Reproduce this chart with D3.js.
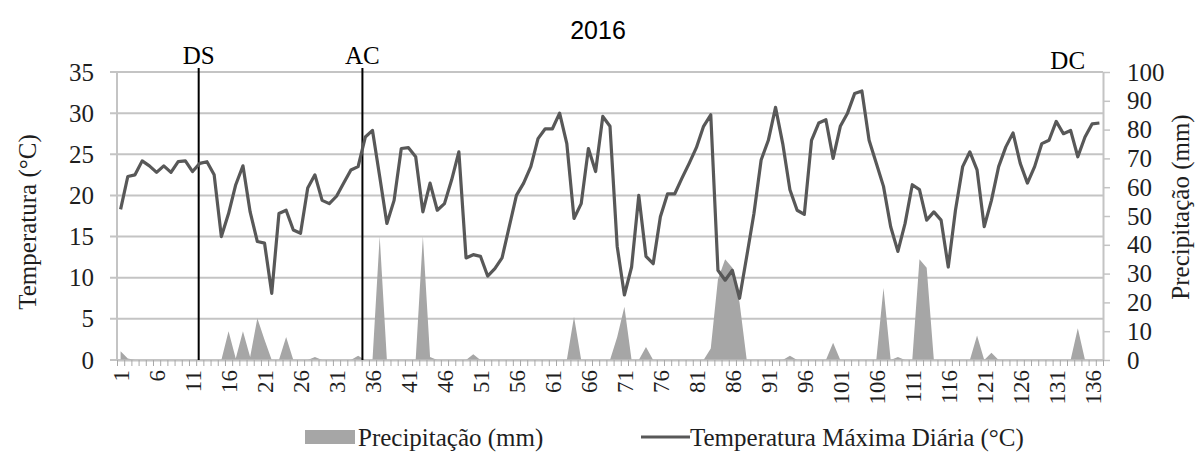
<!DOCTYPE html>
<html>
<head>
<meta charset="utf-8">
<script src="https://cdn.jsdelivr.net/npm/d3@7/dist/d3.min.js"></script>
<style>
  html, body { margin: 0; padding: 0; background: #fff; }
  svg { display: block; }
</style>
</head>
<body>
<script>
// ---------------- DATA ----------------
const title = "2016";
const days = d3.range(1, 138); // categories: day 1 .. 137
const tempMax = [
  18.3, 22.3, 22.5, 24.2, 23.6, 22.8, 23.6, 22.8, 24.1, 24.2,
  22.9, 23.9, 24.1, 22.5, 15.0, 17.8, 21.3, 23.6, 18.0, 14.4,
  14.2, 8.1, 17.8, 18.2, 15.8, 15.4, 20.9, 22.5, 19.4, 19.0,
  19.9, 21.5, 23.1, 23.5, 27.1, 27.9, 22.3, 16.6, 19.4, 25.7,
  25.8, 24.7, 18.0, 21.5, 18.2, 19.0, 21.9, 25.3, 12.4, 12.8,
  12.6, 10.2, 11.1, 12.4, 16.2, 20.0, 21.5, 23.5, 26.9, 28.1,
  28.1, 30.0, 26.3, 17.2, 19.0, 25.7, 22.9, 29.6, 28.4, 13.8,
  7.9, 11.3, 20.0, 12.6, 11.7, 17.4, 20.2, 20.2, 22.1, 23.9,
  25.8, 28.4, 29.8, 10.9, 9.7, 10.9, 7.5, 12.6, 17.8, 24.3,
  26.7, 30.7, 26.3, 20.7, 18.2, 17.7, 26.7, 28.8, 29.2, 24.5,
  28.4, 30.0, 32.4, 32.7, 26.7, 23.9, 21.1, 16.2, 13.2, 16.6,
  21.3, 20.7, 17.0, 18.0, 17.0, 11.3, 18.2, 23.5, 25.3, 23.1,
  16.2, 19.4, 23.5, 25.9, 27.6, 23.9, 21.5, 23.5, 26.3, 26.7,
  29.0, 27.5, 27.9, 24.7, 27.1, 28.7, 28.8
];
const precip = [
  3, 0.5, 0, 0, 0, 0, 0, 0, 0, 0,
  0, 0, 0, 0, 0, 10, 0.5, 10, 1, 14.5,
  7, 0, 0, 8, 0, 0, 0, 1, 0, 0,
  0, 0, 0, 1.5, 0, 0, 43, 0, 0, 0,
  0, 0, 43, 1, 0, 0, 0, 0, 0, 2,
  0, 0, 0, 0, 0, 0, 0, 0, 0, 0,
  0, 0, 0, 15, 0, 0, 0, 0, 0, 8,
  18.5, 0, 0, 4.5, 0, 0, 0, 0, 0, 0,
  0, 0, 4, 28, 35, 32, 20, 0, 0, 0,
  0, 0, 0, 1.5, 0, 0, 0, 0, 0, 6,
  0, 0, 0, 0, 0, 0, 25, 0, 1, 0,
  0, 35, 32, 0, 0, 0, 0, 0, 0, 8.5,
  0, 2.5, 0, 0, 0, 0, 0, 0, 0, 0,
  0, 0, 0, 11, 0, 0, 0
];
const tempTicks = [0, 5, 10, 15, 20, 25, 30, 35];
const precipTicks = [0, 10, 20, 30, 40, 50, 60, 70, 80, 90, 100];
const xLabelDays = d3.range(1, 138, 5); // 1, 6, ..., 136
const eventLabels = ["DS", "AC", "DC"];
const eventDays = [11.85, 34.6, null];      // vertical marker lines (DC has none)
const eventLabelDays = [11.85, 34.6, 132.6];
const legendLabels = ["Precipitação (mm)", "Temperatura Máxima Diária (°C)"];
const yLeftTitle = "Temperatura (°C)";
const yRightTitle = "Precipitação (mm)";

// ---------------- LAYOUT ----------------
const W = 1200, H = 452;
const plot = { left: 117, right: 1103, top: 72, bottom: 360 };
const serif = "'Liberation Serif', 'Times New Roman', serif";
const textColor = "#1e1e1e";
const gridColor = "#c4c4c4";
const axisColor = "#a8a8a8";
const areaColor = "#a6a6a6";
const lineColor = "#585858";

const svg = d3.select("body").append("svg")
  .attr("width", W).attr("height", H)
  .style("background", "#fff");

const x = d3.scaleLinear().domain([0.5, days.length + 0.5]).range([plot.left, plot.right]);
const yL = d3.scaleLinear().domain([0, 35]).range([plot.bottom, plot.top]);
const yR = d3.scaleLinear().domain([0, 100]).range([plot.bottom, plot.top]);

// gridlines (left axis)
svg.append("g").selectAll("line").data(tempTicks).join("line")
  .attr("x1", plot.left - 7).attr("x2", plot.right)
  .attr("y1", d => yL(d)).attr("y2", d => yL(d))
  .attr("stroke", gridColor).attr("stroke-width", 2);

// left axis line
svg.append("line")
  .attr("x1", plot.left).attr("x2", plot.left)
  .attr("y1", plot.top).attr("y2", plot.bottom)
  .attr("stroke", gridColor).attr("stroke-width", 2);

// left axis labels
const gL = svg.append("g").attr("transform", `translate(${plot.left},0)`)
  .call(d3.axisLeft(yL).tickValues(tempTicks).tickSize(0).tickPadding(23));
gL.select(".domain").remove();
gL.selectAll("text").style("font-family", serif).style("font-size", "25px").attr("fill", textColor);

// right axis
const gR = svg.append("g").attr("transform", `translate(${plot.right},0)`)
  .call(d3.axisRight(yR).tickValues(precipTicks).tickSizeInner(7).tickSizeOuter(0).tickPadding(17));
gR.select(".domain").attr("stroke", gridColor).attr("stroke-width", 2);
gR.selectAll(".tick line").attr("stroke", gridColor).attr("stroke-width", 1.5);
gR.selectAll("text").style("font-family", serif).style("font-size", "25px").attr("fill", textColor);

// precipitation area
const area = d3.area()
  .x((d, i) => x(days[i]))
  .y0(yR(0))
  .y1(d => yR(d));
svg.append("path").datum(precip)
  .attr("d", area)
  .attr("fill", areaColor);

// x axis with category tick marks
const boundaries = d3.range(0, days.length + 1).map(i => i + 0.5);
const gX = svg.append("g").attr("transform", `translate(0,${plot.bottom})`)
  .call(d3.axisBottom(x).tickValues(boundaries).tickSizeInner(6).tickSizeOuter(0).tickFormat(""));
gX.select(".domain").attr("stroke", gridColor).attr("stroke-width", 2);
gX.selectAll(".tick line").attr("stroke", axisColor).attr("stroke-width", 1);

const gXL = svg.append("g").attr("transform", `translate(0,${plot.bottom})`)
  .call(d3.axisBottom(x).tickValues(xLabelDays).tickSize(0).tickFormat(d3.format("d")));
gXL.select(".domain").remove();
gXL.selectAll("text")
  .attr("transform", "rotate(-90)")
  .attr("x", -10).attr("y", 0).attr("dy", "0.35em")
  .style("text-anchor", "end")
  .style("font-family", serif).style("font-size", "23px").attr("fill", textColor);

// event vertical lines
eventDays.forEach((d, i) => {
  if (d === null) return;
  svg.append("line")
    .attr("x1", x(d)).attr("x2", x(d))
    .attr("y1", plot.top - 4).attr("y2", plot.bottom)
    .attr("stroke", "#000").attr("stroke-width", 2);
});
eventLabels.forEach((lab, i) => {
  svg.append("text")
    .attr("x", x(eventLabelDays[i]))
    .attr("y", i === 2 ? 69 : 64)
    .attr("text-anchor", "middle")
    .style("font-family", serif).style("font-size", "25px")
    .attr("fill", "#000")
    .text(lab);
});

// temperature line
const line = d3.line()
  .x((d, i) => x(days[i]))
  .y(d => yL(d));
svg.append("path").datum(tempMax)
  .attr("d", line)
  .attr("fill", "none")
  .attr("stroke", lineColor)
  .attr("stroke-width", 3.2)
  .attr("stroke-linejoin", "round");

// title
svg.append("text")
  .attr("x", 598).attr("y", 39)
  .attr("text-anchor", "middle")
  .style("font-family", "'Liberation Sans', Arial, sans-serif").style("font-size", "25px")
  .attr("fill", "#000")
  .text(title);

// axis titles
svg.append("text")
  .attr("transform", "translate(36,222) rotate(-90)")
  .attr("text-anchor", "middle")
  .style("font-family", serif).style("font-size", "25px")
  .attr("fill", textColor)
  .text(yLeftTitle);
svg.append("text")
  .attr("transform", "translate(1189,207) rotate(-90)")
  .attr("text-anchor", "middle")
  .style("font-family", serif).style("font-size", "25px")
  .attr("fill", textColor)
  .text(yRightTitle);

// legend
const legend = svg.append("g");
legend.append("rect")
  .attr("x", 305).attr("y", 430).attr("width", 50).attr("height", 14)
  .attr("fill", areaColor);
legend.append("text")
  .attr("x", 358).attr("y", 446)
  .style("font-family", serif).style("font-size", "25px")
  .attr("fill", textColor)
  .text(legendLabels[0]);
legend.append("line")
  .attr("x1", 641).attr("x2", 690).attr("y1", 437).attr("y2", 437)
  .attr("stroke", lineColor).attr("stroke-width", 3);
legend.append("text")
  .attr("x", 690).attr("y", 446)
  .style("font-family", serif).style("font-size", "25px")
  .attr("fill", textColor)
  .text(legendLabels[1]);
</script>
</body>
</html>
